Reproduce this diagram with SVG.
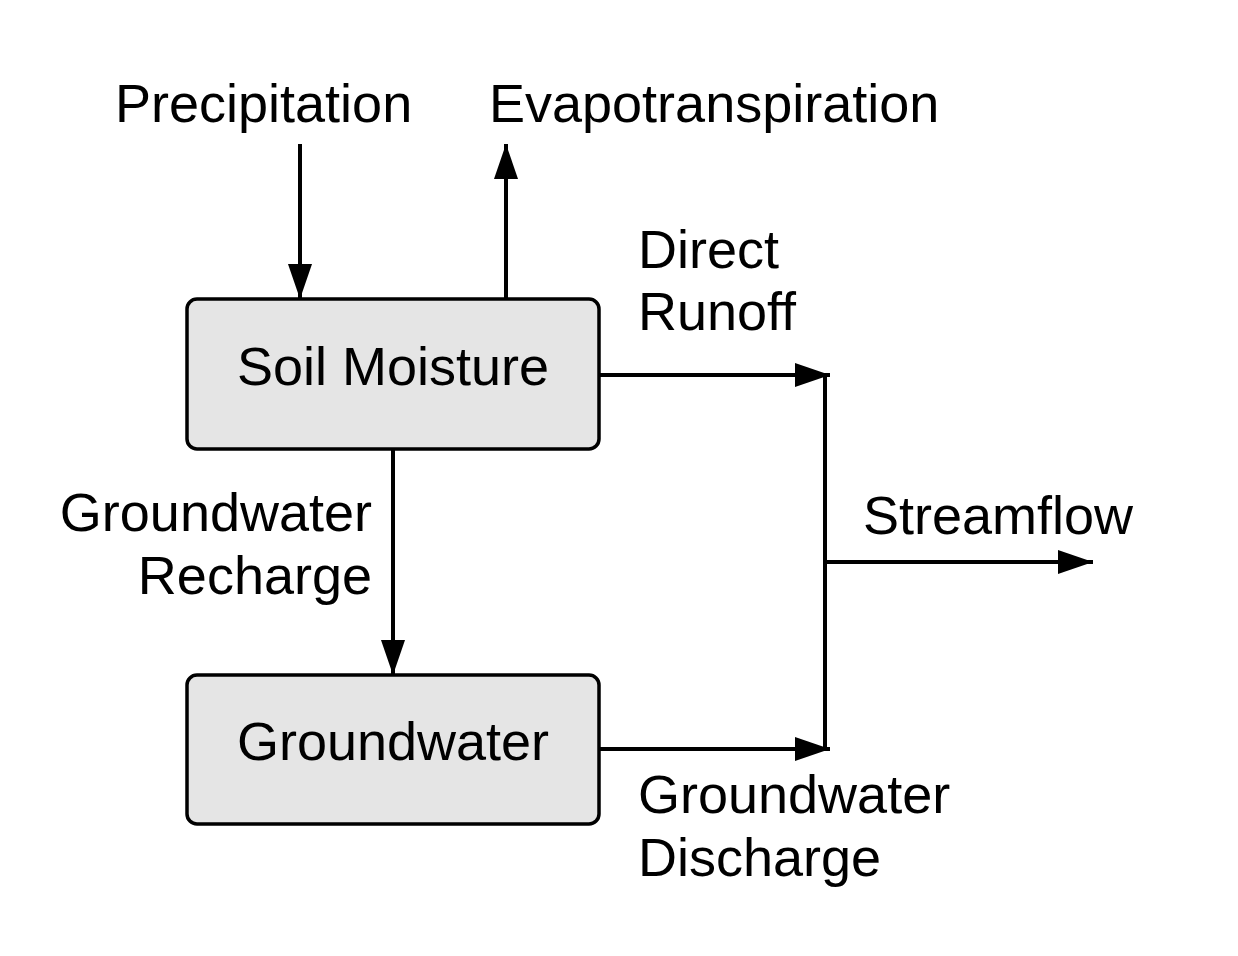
<svg xmlns="http://www.w3.org/2000/svg" width="1238" height="956" viewBox="0 0 1238 956">
<style>
text{font-family:"Liberation Sans",Arial,sans-serif;font-size:54px;fill:#000}
.box{fill:#e5e5e5;stroke:#000;stroke-width:3.5}
.c{fill:none;stroke:#000;stroke-width:4}
</style>
<defs>
<marker id="ah" markerUnits="userSpaceOnUse" markerWidth="38" markerHeight="26" refX="35" refY="12" orient="auto" viewBox="0 0 38 24">
<path d="M0,0 L35,12 L0,24 z" fill="#000"/>
</marker>
</defs>
<rect width="1238" height="956" fill="#fff"/>
<g id="soil-moisture">
<rect class="box" x="187" y="299" width="412" height="150" rx="10"/>
<text x="393" y="385" text-anchor="middle">Soil Moisture</text>
</g>
<g id="groundwater">
<rect class="box" x="187" y="675" width="412" height="149" rx="10"/>
<text x="393" y="760" text-anchor="middle">Groundwater</text>
</g>
<g id="connectors">
<line class="c" x1="300" y1="144" x2="300" y2="299" marker-end="url(#ah)"/>
<line class="c" x1="506" y1="299" x2="506" y2="144" marker-end="url(#ah)"/>
<line class="c" x1="599" y1="375" x2="830" y2="375" marker-end="url(#ah)"/>
<line class="c" x1="599" y1="749" x2="830" y2="749" marker-end="url(#ah)"/>
<line class="c" x1="825" y1="375" x2="825" y2="749"/>
<line class="c" x1="825" y1="562" x2="1093" y2="562" marker-end="url(#ah)"/>
<line class="c" x1="393" y1="449" x2="393" y2="675" marker-end="url(#ah)"/>
</g>
<g id="labels">
<text x="115" y="122">Precipitation</text>
<text x="489" y="122">Evapotranspiration</text>
<text x="638" y="268">Direct</text>
<text x="638" y="330">Runoff</text>
<text x="863" y="534">Streamflow</text>
<text x="372" y="531" text-anchor="end">Groundwater</text>
<text x="372" y="594" text-anchor="end">Recharge</text>
<text x="638" y="813">Groundwater</text>
<text x="638" y="876">Discharge</text>
</g>
</svg>
